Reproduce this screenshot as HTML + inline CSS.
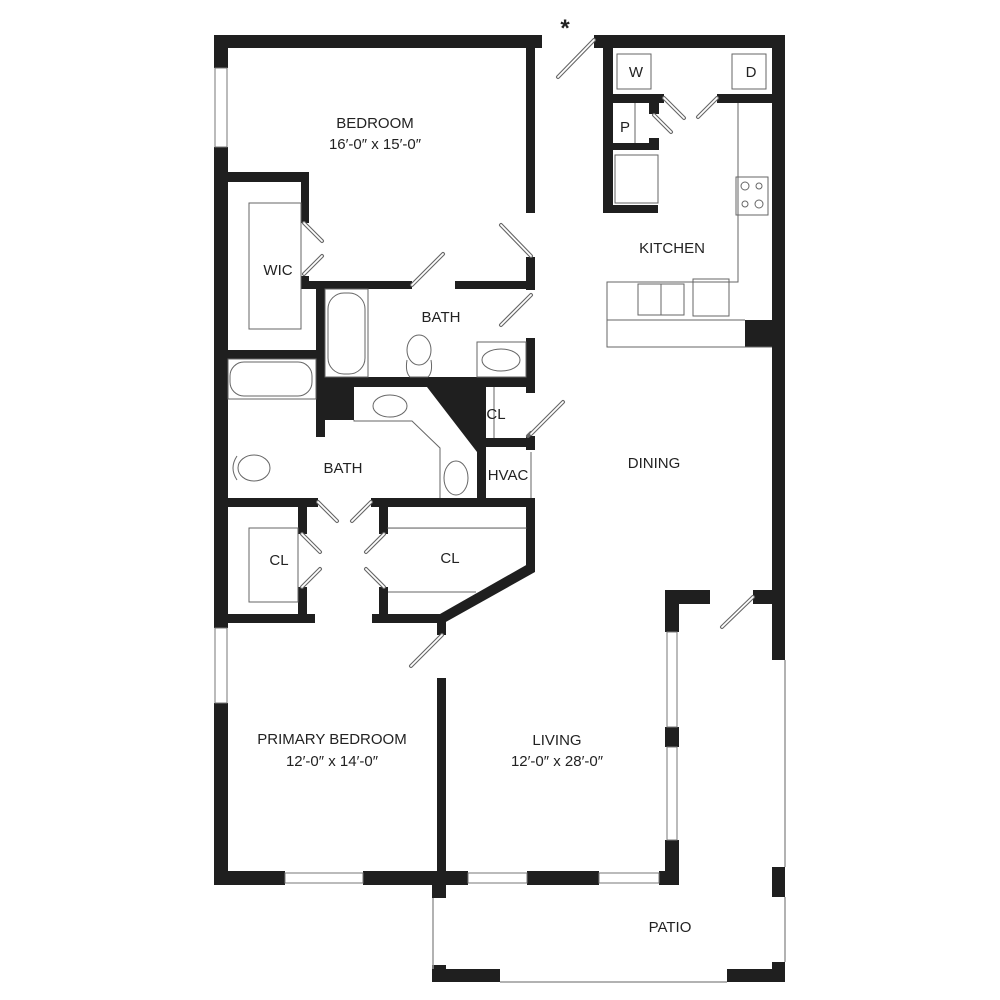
<!DOCTYPE html>
<html><head><meta charset="utf-8"><style>
html,body{margin:0;padding:0;background:#fff;}
svg{display:block}
text{font-family:"Liberation Sans",sans-serif;fill:#222;font-size:15px;text-anchor:middle}
</style></head><body>
<svg width="1000" height="1000" viewBox="0 0 1000 1000" xmlns="http://www.w3.org/2000/svg">
<defs>
<g id="x"></g>
</defs>
<g fill="#1f1f1f">
<!-- top-left bedroom -->
<rect x="214" y="35" width="328" height="13"/>
<rect x="214" y="35" width="14" height="33"/>
<rect x="214" y="147" width="14" height="481"/>
<rect x="214" y="703" width="14" height="181"/>
<rect x="526" y="48" width="9" height="165"/>
<rect x="526" y="257" width="9" height="33"/>
<rect x="526" y="338" width="9" height="55"/>
<!-- WIC -->
<rect x="228" y="172" width="81" height="10"/>
<rect x="301" y="172" width="8" height="51"/>
<rect x="301" y="276" width="8" height="13"/>
<rect x="301" y="281" width="111" height="8"/>
<rect x="455" y="281" width="80" height="8"/>
<!-- bath1 -->
<rect x="316" y="281" width="9" height="156"/>
<rect x="316" y="377" width="219" height="10"/>
<rect x="316" y="377" width="38" height="43"/>
<polygon points="427,387 486,387 486,452 477,452"/>
<rect x="477" y="387" width="9" height="113"/>
<rect x="477" y="438" width="58" height="9"/>
<rect x="526" y="436" width="9" height="14"/>
<rect x="228" y="350" width="88" height="9"/>
<!-- bath2 bottom -->
<rect x="214" y="498" width="104" height="9"/>
<rect x="371" y="498" width="164" height="9"/>
<!-- closets -->
<rect x="298" y="507" width="9" height="27"/>
<rect x="298" y="587" width="9" height="28"/>
<rect x="214" y="614" width="101" height="9"/>
<rect x="379" y="507" width="9" height="27"/>
<rect x="379" y="587" width="9" height="28"/>
<rect x="372" y="614" width="72" height="9"/>
<rect x="526" y="498" width="9" height="67"/>
<polygon points="535,560 535,572 444,623 440,614"/>
<rect x="437" y="614" width="9" height="21"/>
<rect x="437" y="678" width="9" height="207"/>
<!-- bottom -->
<rect x="214" y="871" width="71" height="14"/>
<rect x="363" y="871" width="105" height="14"/>
<rect x="432" y="884" width="14" height="14"/>
<rect x="527" y="871" width="72" height="14"/>
<rect x="659" y="871" width="20" height="14"/>
<rect x="665" y="840" width="14" height="45"/>
<rect x="665" y="727" width="14" height="20"/>
<rect x="665" y="590" width="14" height="42"/>
<rect x="665" y="590" width="45" height="14"/>
<!-- kitchen -->
<rect x="594" y="35" width="191" height="13"/>
<rect x="772" y="35" width="13" height="625"/>
<rect x="603" y="48" width="10" height="165"/>
<rect x="603" y="94" width="61" height="9"/>
<rect x="717" y="94" width="55" height="9"/>
<rect x="649" y="94" width="10" height="20"/>
<rect x="649" y="138" width="10" height="12"/>
<rect x="603" y="143" width="56" height="7"/>
<rect x="603" y="205" width="55" height="8"/>
<rect x="745" y="320" width="27" height="27"/>
<rect x="753" y="590" width="32" height="14"/>
<!-- patio -->
<rect x="772" y="867" width="13" height="30"/>
<rect x="432" y="965" width="14" height="17"/>
<rect x="432" y="969" width="68" height="13"/>
<rect x="727" y="969" width="58" height="13"/>
<rect x="772" y="962" width="13" height="20"/>
</g>
<!-- windows -->
<g fill="#fff" stroke="#777" stroke-width="1">
<rect x="215" y="68" width="12" height="79"/>
<rect x="215" y="628" width="12" height="75"/>
<rect x="285" y="873" width="78" height="10"/>
<rect x="468" y="873" width="59" height="10"/>
<rect x="599" y="873" width="60" height="10"/>
<rect x="667" y="632" width="10" height="95"/>
<rect x="667" y="747" width="10" height="93"/>
</g>
<g stroke="#999" stroke-width="1.5" fill="none">
<line x1="785" y1="660" x2="785" y2="867"/>
<line x1="785" y1="897" x2="785" y2="962"/>
<line x1="433" y1="898" x2="433" y2="969"/>
<line x1="500" y1="982" x2="727" y2="982"/>
</g>
<!-- doors -->
<g stroke-linecap="round">
<g stroke="#666" stroke-width="4">
<line x1="558" y1="77" x2="594" y2="40"/>
<line x1="304" y1="223" x2="322" y2="241"/>
<line x1="304" y1="274" x2="322" y2="256"/>
<line x1="412" y1="285" x2="443" y2="254"/>
<line x1="501" y1="225" x2="531" y2="256"/>
<line x1="531" y1="295" x2="501" y2="325"/>
<line x1="531" y1="433" x2="528" y2="436"/>
<line x1="563" y1="402" x2="531" y2="434"/>
<line x1="318" y1="502" x2="337" y2="521"/>
<line x1="371" y1="502" x2="352" y2="521"/>
<line x1="302" y1="534" x2="320" y2="552"/>
<line x1="302" y1="587" x2="320" y2="569"/>
<line x1="384" y1="534" x2="366" y2="552"/>
<line x1="384" y1="587" x2="366" y2="569"/>
<line x1="442" y1="635" x2="411" y2="666"/>
<line x1="753" y1="597" x2="722" y2="627"/>
<line x1="664" y1="98" x2="684" y2="118"/>
<line x1="654" y1="115" x2="671" y2="132"/>
<line x1="717" y1="98" x2="698" y2="117"/>
</g>
<g stroke="#fff" stroke-width="1.8">
<line x1="558" y1="77" x2="594" y2="40"/>
<line x1="304" y1="223" x2="322" y2="241"/>
<line x1="304" y1="274" x2="322" y2="256"/>
<line x1="412" y1="285" x2="443" y2="254"/>
<line x1="501" y1="225" x2="531" y2="256"/>
<line x1="531" y1="295" x2="501" y2="325"/>
<line x1="563" y1="402" x2="531" y2="434"/>
<line x1="318" y1="502" x2="337" y2="521"/>
<line x1="371" y1="502" x2="352" y2="521"/>
<line x1="302" y1="534" x2="320" y2="552"/>
<line x1="302" y1="587" x2="320" y2="569"/>
<line x1="384" y1="534" x2="366" y2="552"/>
<line x1="384" y1="587" x2="366" y2="569"/>
<line x1="442" y1="635" x2="411" y2="666"/>
<line x1="753" y1="597" x2="722" y2="627"/>
<line x1="664" y1="98" x2="684" y2="118"/>
<line x1="654" y1="115" x2="671" y2="132"/>
<line x1="717" y1="98" x2="698" y2="117"/>
</g>
</g>
<!-- fixtures -->
<g fill="none" stroke="#666" stroke-width="1">
<rect x="249" y="203" width="52" height="126"/>
<rect x="249" y="528" width="49" height="74"/>
<rect x="388" y="528" width="138" height="0.1"/>
<line x1="388" y1="592" x2="476" y2="592"/>
<rect x="325" y="289" width="43" height="88"/>
<rect x="328" y="293" width="37" height="81" rx="16"/>
<rect x="477" y="342" width="49" height="35"/>
<ellipse cx="501" cy="360" rx="19" ry="11"/>
<ellipse cx="419" cy="350" rx="12" ry="15"/>
<path d="M407 360 Q405 372 410 377 L428 377 Q433 372 431 360"/>
<rect x="228" y="359" width="88" height="40"/>
<rect x="230" y="362" width="82" height="34" rx="14"/>
<ellipse cx="390" cy="406" rx="17" ry="11"/>
<polyline points="354,420 354,421 412,421 440,448 440,498"/>
<ellipse cx="456" cy="478" rx="12" ry="17"/>
<ellipse cx="254" cy="468" rx="16" ry="13"/>
<path d="M237 456 Q229 468 237 480"/>
<line x1="494" y1="387" x2="494" y2="438"/>
<line x1="531" y1="452" x2="531" y2="498"/>
<rect x="617" y="54" width="34" height="35"/>
<rect x="732" y="54" width="34" height="35"/>
<line x1="635" y1="103" x2="635" y2="143"/>
<rect x="615" y="155" width="43" height="48"/>
<polyline points="738,103 738,282 607,282 607,347 772,347"/>
<line x1="607" y1="320" x2="745" y2="320"/>
<rect x="736" y="177" width="32" height="38"/>
<circle cx="745" cy="186" r="4"/><circle cx="759" cy="186" r="3"/>
<circle cx="745" cy="204" r="3"/><circle cx="759" cy="204" r="4"/>
<rect x="638" y="284" width="46" height="31"/>
<line x1="661" y1="284" x2="661" y2="315"/>
<rect x="693" y="279" width="36" height="37"/>
</g>
<!-- labels -->
<text x="375" y="128">BEDROOM</text>
<text x="375" y="149">16′-0″ x 15′-0″</text>
<text x="278" y="275">WIC</text>
<text x="441" y="322">BATH</text>
<text x="343" y="473">BATH</text>
<text x="496" y="419">CL</text>
<text x="508" y="480">HVAC</text>
<text x="672" y="253">KITCHEN</text>
<text x="654" y="468">DINING</text>
<text x="279" y="565">CL</text>
<text x="450" y="563">CL</text>
<text x="332" y="744">PRIMARY BEDROOM</text>
<text x="332" y="766">12′-0″ x 14′-0″</text>
<text x="557" y="745">LIVING</text>
<text x="557" y="766">12′-0″ x 28′-0″</text>
<text x="670" y="932">PATIO</text>
<text x="636" y="77">W</text>
<text x="751" y="77">D</text>
<text x="625" y="132">P</text>
<text x="565" y="36" style="font-size:24px;font-weight:bold">*</text>
</svg>
</body></html>
